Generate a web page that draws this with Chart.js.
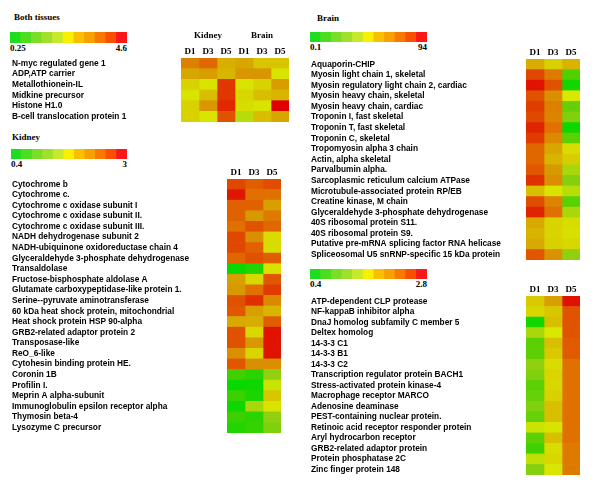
<!DOCTYPE html>
<html>
<head>
<meta charset="utf-8">
<script src="https://cdn.jsdelivr.net/npm/chart.js@4.4.1/dist/chart.umd.min.js"></script>
<style>
  body { margin: 0; background: #fff; width: 600px; height: 500px; position: relative; overflow: hidden; }
  canvas { position: absolute; }
  .t { position: absolute; font: bold 9px "Liberation Serif", "Times New Roman", serif; color: #000; white-space: nowrap; line-height: 10px; }
  .rng { position: absolute; display: flex; justify-content: space-between; font: bold 9px "Liberation Serif", "Times New Roman", serif; line-height: 10px; }
</style>
</head>
<body>
<div class="t" style="left:14px;top:12px">Both tissues</div>
<div class="t" style="left:12px;top:132px">Kidney</div>
<div class="t" style="left:317px;top:13px">Brain</div>

<canvas id="legBoth" width="117" height="11" style="left:10px;top:32px"></canvas>
<div class="rng" id="rngBoth" style="left:10px;top:43px;width:117px"></div>
<canvas id="legKid" width="116" height="10" style="left:11px;top:149px"></canvas>
<div class="rng" id="rngKid" style="left:11px;top:159px;width:116px"></div>
<canvas id="legBr" width="117" height="10" style="left:310px;top:32px"></canvas>
<div class="rng" id="rngBr" style="left:310px;top:42px;width:117px"></div>
<canvas id="legOth" width="117" height="10" style="left:310px;top:269px"></canvas>
<div class="rng" id="rngOth" style="left:310px;top:279px;width:117px"></div>

<canvas id="heatBoth" width="277" height="94" style="left:12px;top:28px"></canvas>
<canvas id="heatKid" width="269" height="273" style="left:12px;top:160px"></canvas>
<canvas id="heatBr" width="269" height="216" style="left:311px;top:44px"></canvas>
<canvas id="heatOth" width="269" height="195" style="left:311px;top:280px"></canvas>

<script>
// ---- data ----
const bothGenes = ['N-myc regulated gene 1', 'ADP,ATP carrier', 'Metallothionein-IL',
  'Midkine precursor', 'Histone H1.0', 'B-cell translocation protein 1'];
const bothCols = ['D1', 'D3', 'D5', 'D1', 'D3', 'D5'];
const bothGroups = ['Kidney', 'Brain'];
const bothKidD1 = [3.6, 3.2, 2.6, 2.3, 2.6, 2.6];
const bothKidD3 = [3.8, 3.3, 2.3, 2.9, 3.4, 2.3];
const bothKidD5 = [3.1, 3.0, 4.2, 4.2, 4.3, 4.0];
const bothBrD1 = [3.2, 3.4, 2.3, 2.5, 2.4, 1.9];
const bothBrD3 = [2.8, 3.4, 2.6, 2.9, 2.3, 2.9];
const bothBrD5 = [2.8, 2.3, 3.3, 3.0, 4.6, 3.2];
const bothRange = [0.25, 4.6];

const kidGenes = ['Cytochrome b', 'Cytochrome c.', 'Cytochrome c oxidase subunit I',
  'Cytochrome c oxidase subunit II.', 'Cytochrome c oxidase subunit III.',
  'NADH dehydrogenase subunit 2', 'NADH-ubiquinone oxidoreductase chain 4',
  'Glyceraldehyde 3-phosphate dehydrogenase', 'Transaldolase',
  'Fructose-bisphosphate aldolase A', 'Glutamate carboxypeptidase-like protein 1.',
  'Serine--pyruvate aminotransferase', '60 kDa heat shock protein, mitochondrial',
  'Heat shock protein HSP 90-alpha', 'GRB2-related adaptor protein 2', 'Transposase-like',
  'ReO_6-like', 'Cytohesin binding protein HE.', 'Coronin 1B', 'Profilin I.',
  'Meprin A alpha-subunit', 'Immunoglobulin epsilon receptor alpha', 'Thymosin beta-4',
  'Lysozyme C precursor'];
const kidD1 = [2.69, 2.90, 2.56, 2.56, 2.48, 2.69, 2.69, 2.53, 0.45, 2.22, 2.27, 2.64,
  2.61, 2.14, 2.64, 2.64, 2.32, 2.61, 0.79, 0.45, 0.76, 0.48, 0.76, 0.61];
const kidD3 = [2.58, 2.48, 2.56, 2.27, 2.64, 2.32, 2.56, 2.64, 0.61, 1.75, 2.48, 2.79,
  2.22, 2.12, 1.75, 2.27, 1.78, 2.32, 0.66, 0.48, 0.56, 1.31, 0.66, 0.71];
const kidD5 = [2.66, 2.48, 2.22, 2.43, 2.53, 1.70, 1.70, 2.58, 1.65, 2.61, 2.74, 2.35,
  2.04, 2.58, 2.92, 2.92, 2.92, 2.32, 1.18, 1.49, 1.91, 1.62, 1.18, 1.10];
const kidRange = [0.4, 3];

const brGenes = ['Aquaporin-CHIP', 'Myosin light chain 1, skeletal',
  'Myosin regulatory light chain 2, cardiac', 'Myosin heavy chain, skeletal',
  'Myosin heavy chain, cardiac', 'Troponin I, fast skeletal', 'Troponin T, fast skeletal',
  'Troponin C, skeletal', 'Tropomyosin alpha 3 chain', 'Actin, alpha skeletal',
  'Parvalbumin alpha.', 'Sarcoplasmic reticulum calcium ATPase',
  'Microtubule-associated protein RP/EB', 'Creatine kinase, M chain',
  'Glyceraldehyde 3-phosphate dehydrogenase', '40S ribosomal protein S11.',
  '40S ribosomal protein S9.', 'Putative pre-mRNA splicing factor RNA helicase',
  'Spliceosomal U5 snRNP-specific 15 kDa protein'];
const brD1 = [9.2, 41.3, 76.5, 36.0, 47.4, 41.3, 62.3, 47.4, 27.4, 27.4, 33.7, 54.3, 6.1,
  38.6, 62.3, 9.8, 8.0, 9.8, 33.7];
const brD3 = [4.3, 20.8, 36.0, 15.8, 19.5, 18.2, 23.9, 17.0, 10.5, 8.0, 13.8, 15.8, 2.5,
  18.2, 23.9, 3.8, 3.8, 4.3, 14.8];
const brD5 = [8.0, 0.34, 0.14, 2.2, 0.45, 0.64, 0.13, 0.39, 3.1, 4.6, 1.1, 0.68, 1.35,
  0.39, 1.1, 3.1, 2.7, 3.5, 0.78];
const brRange = [0.1, 94];

const othGenes = ['ATP-dependent CLP protease', 'NF-kappaB inhibitor alpha',
  'DnaJ homolog subfamily C member 5', 'Deltex homolog', '14-3-3 C1', '14-3-3 B1',
  '14-3-3 C2', 'Transcription regulator protein BACH1', 'Stress-activated protein kinase-4',
  'Macrophage receptor MARCO', 'Adenosine deaminase', 'PEST-containing nuclear protein.',
  'Retinoic acid receptor responder protein', 'Aryl hydrocarbon receptor',
  'GRB2-related adaptor protein', 'Protein phosphatase 2C', 'Zinc finger protein 148'];
const othD1 = [1.77, 1.67, 0.50, 1.24, 0.88, 0.88, 1.12, 1.05, 0.88, 0.93, 1.05, 0.93,
  1.41, 0.88, 0.76, 1.36, 1.07];
const othD3 = [2.08, 1.79, 1.84, 1.48, 1.84, 1.77, 1.60, 1.67, 1.65, 1.72, 1.84, 1.84,
  1.53, 1.84, 1.60, 1.65, 1.50];
const othD5 = [2.73, 2.46, 2.46, 2.46, 2.42, 2.42, 2.32, 2.32, 2.32, 2.32, 2.32, 2.32,
  2.32, 2.32, 2.27, 2.27, 2.27];
const othRange = [0.4, 2.8];

const days = ['D1', 'D3', 'D5'];

// colour key steps (green -> yellow -> red)
const keyColors = ['#1edc1e', '#4ade1e', '#7ade28', '#a0e02a', '#c8e82a', '#f8f000',
  '#f8c000', '#f8a000', '#f87800', '#f85000', '#f81818'];

// ---- colour helpers ----
const stops = [
  [0.00, [0, 216, 0]],
  [0.15, [64, 208, 0]],
  [0.30, [144, 208, 16]],
  [0.45, [216, 232, 0]],
  [0.55, [216, 208, 0]],
  [0.65, [216, 176, 0]],
  [0.72, [216, 152, 0]],
  [0.80, [224, 112, 0]],
  [0.88, [224, 72, 0]],
  [1.00, [224, 0, 0]]
];

function colorAt(t) {
  t = Math.max(0, Math.min(1, t));
  for (let i = 1; i < stops.length; i++) {
    if (t <= stops[i][0]) {
      const a = stops[i - 1], b = stops[i];
      const f = (t - a[0]) / (b[0] - a[0]);
      const c = a[1].map((v, k) => Math.round(v + (b[1][k] - v) * f));
      return 'rgb(' + c.join(',') + ')';
    }
  }
  return 'rgb(224,0,0)';
}

function scaler(range, log) {
  if (log) {
    return v => Math.log(v / range[0]) / Math.log(range[1] / range[0]);
  }
  return v => (v - range[0]) / (range[1] - range[0]);
}

const labelFont = { family: '"Liberation Sans", Arial, sans-serif', size: 8.3, weight: 'bold' };
const headFont = { family: '"Liberation Serif", "Times New Roman", serif', size: 9, weight: 'bold' };

function colorKey(id, rngId, range) {
  new Chart(document.getElementById(id), {
    type: 'bar',
    data: {
      labels: keyColors.map((c, i) => i),
      datasets: [{ data: keyColors.map(() => 1), backgroundColor: keyColors,
        barPercentage: 1, categoryPercentage: 1, borderWidth: 0 }]
    },
    options: {
      responsive: false, animation: false,
      layout: { padding: 0 },
      plugins: { legend: { display: false }, tooltip: { enabled: false } },
      scales: { x: { display: false }, y: { display: false, min: 0, max: 1 } }
    }
  });
  const el = document.getElementById(rngId);
  el.innerHTML = '<span>' + range[0] + '</span><span>' + range[1] + '</span>';
}

function heatmap(id, genes, cols, columns, toT, axisW, axisH, groups) {
  const plugins = [];
  if (groups) {
    plugins.push({
      id: 'groups',
      afterDraw(chart) {
        const ctx = chart.ctx;
        const x = chart.scales.x;
        ctx.save();
        ctx.font = 'bold 9px "Liberation Serif", "Times New Roman", serif';
        ctx.fillStyle = '#000';
        ctx.textAlign = 'center';
        ctx.textBaseline = 'middle';
        groups.forEach((g, i) => {
          ctx.fillText(g, x.getPixelForValue(i * 3 + 1.5), 8);
        });
        ctx.restore();
      }
    });
  }
  new Chart(document.getElementById(id), {
    type: 'bar',
    data: {
      labels: genes,
      datasets: columns.map(vals => ({
        data: vals.map(() => 1),
        backgroundColor: vals.map(v => colorAt(toT(v))),
        barPercentage: 1, categoryPercentage: 1, borderWidth: 0
      }))
    },
    options: {
      indexAxis: 'y',
      responsive: false, animation: false,
      layout: { padding: 0 },
      plugins: { legend: { display: false }, tooltip: { enabled: false } },
      scales: {
        x: {
          type: 'linear', position: 'top', stacked: true, min: 0, max: cols.length,
          grid: { display: false, drawTicks: false }, border: { display: false },
          afterBuildTicks: s => { s.ticks = cols.map((c, i) => ({ value: i + 0.5 })); },
          afterFit: s => { s.height = axisH; s.paddingLeft = 0; s.paddingRight = 0; },
          ticks: { autoSkip: false, maxRotation: 0, padding: 1, color: '#000', font: headFont,
            callback: v => cols[Math.floor(v)] }
        },
        y: {
          stacked: true,
          grid: { display: false, drawTicks: false }, border: { display: false },
          afterFit: s => { s.width = axisW; s.paddingTop = 0; s.paddingBottom = 0; },
          ticks: { autoSkip: false, crossAlign: 'far', color: '#000', font: labelFont }
        }
      }
    },
    plugins: plugins
  });
}

colorKey('legBoth', 'rngBoth', bothRange);
colorKey('legKid', 'rngKid', kidRange);
colorKey('legBr', 'rngBr', brRange);
colorKey('legOth', 'rngOth', othRange);

heatmap('heatBoth', bothGenes, bothCols,
  [bothKidD1, bothKidD3, bothKidD5, bothBrD1, bothBrD3, bothBrD5],
  scaler(bothRange, false), 169, 30, bothGroups);
heatmap('heatKid', kidGenes, days, [kidD1, kidD3, kidD5], scaler(kidRange, false), 215, 19);
heatmap('heatBr', brGenes, days, [brD1, brD3, brD5], scaler(brRange, true), 215, 15);
heatmap('heatOth', othGenes, days, [othD1, othD3, othD5], scaler(othRange, false), 215, 16);
</script>
</body>
</html>
